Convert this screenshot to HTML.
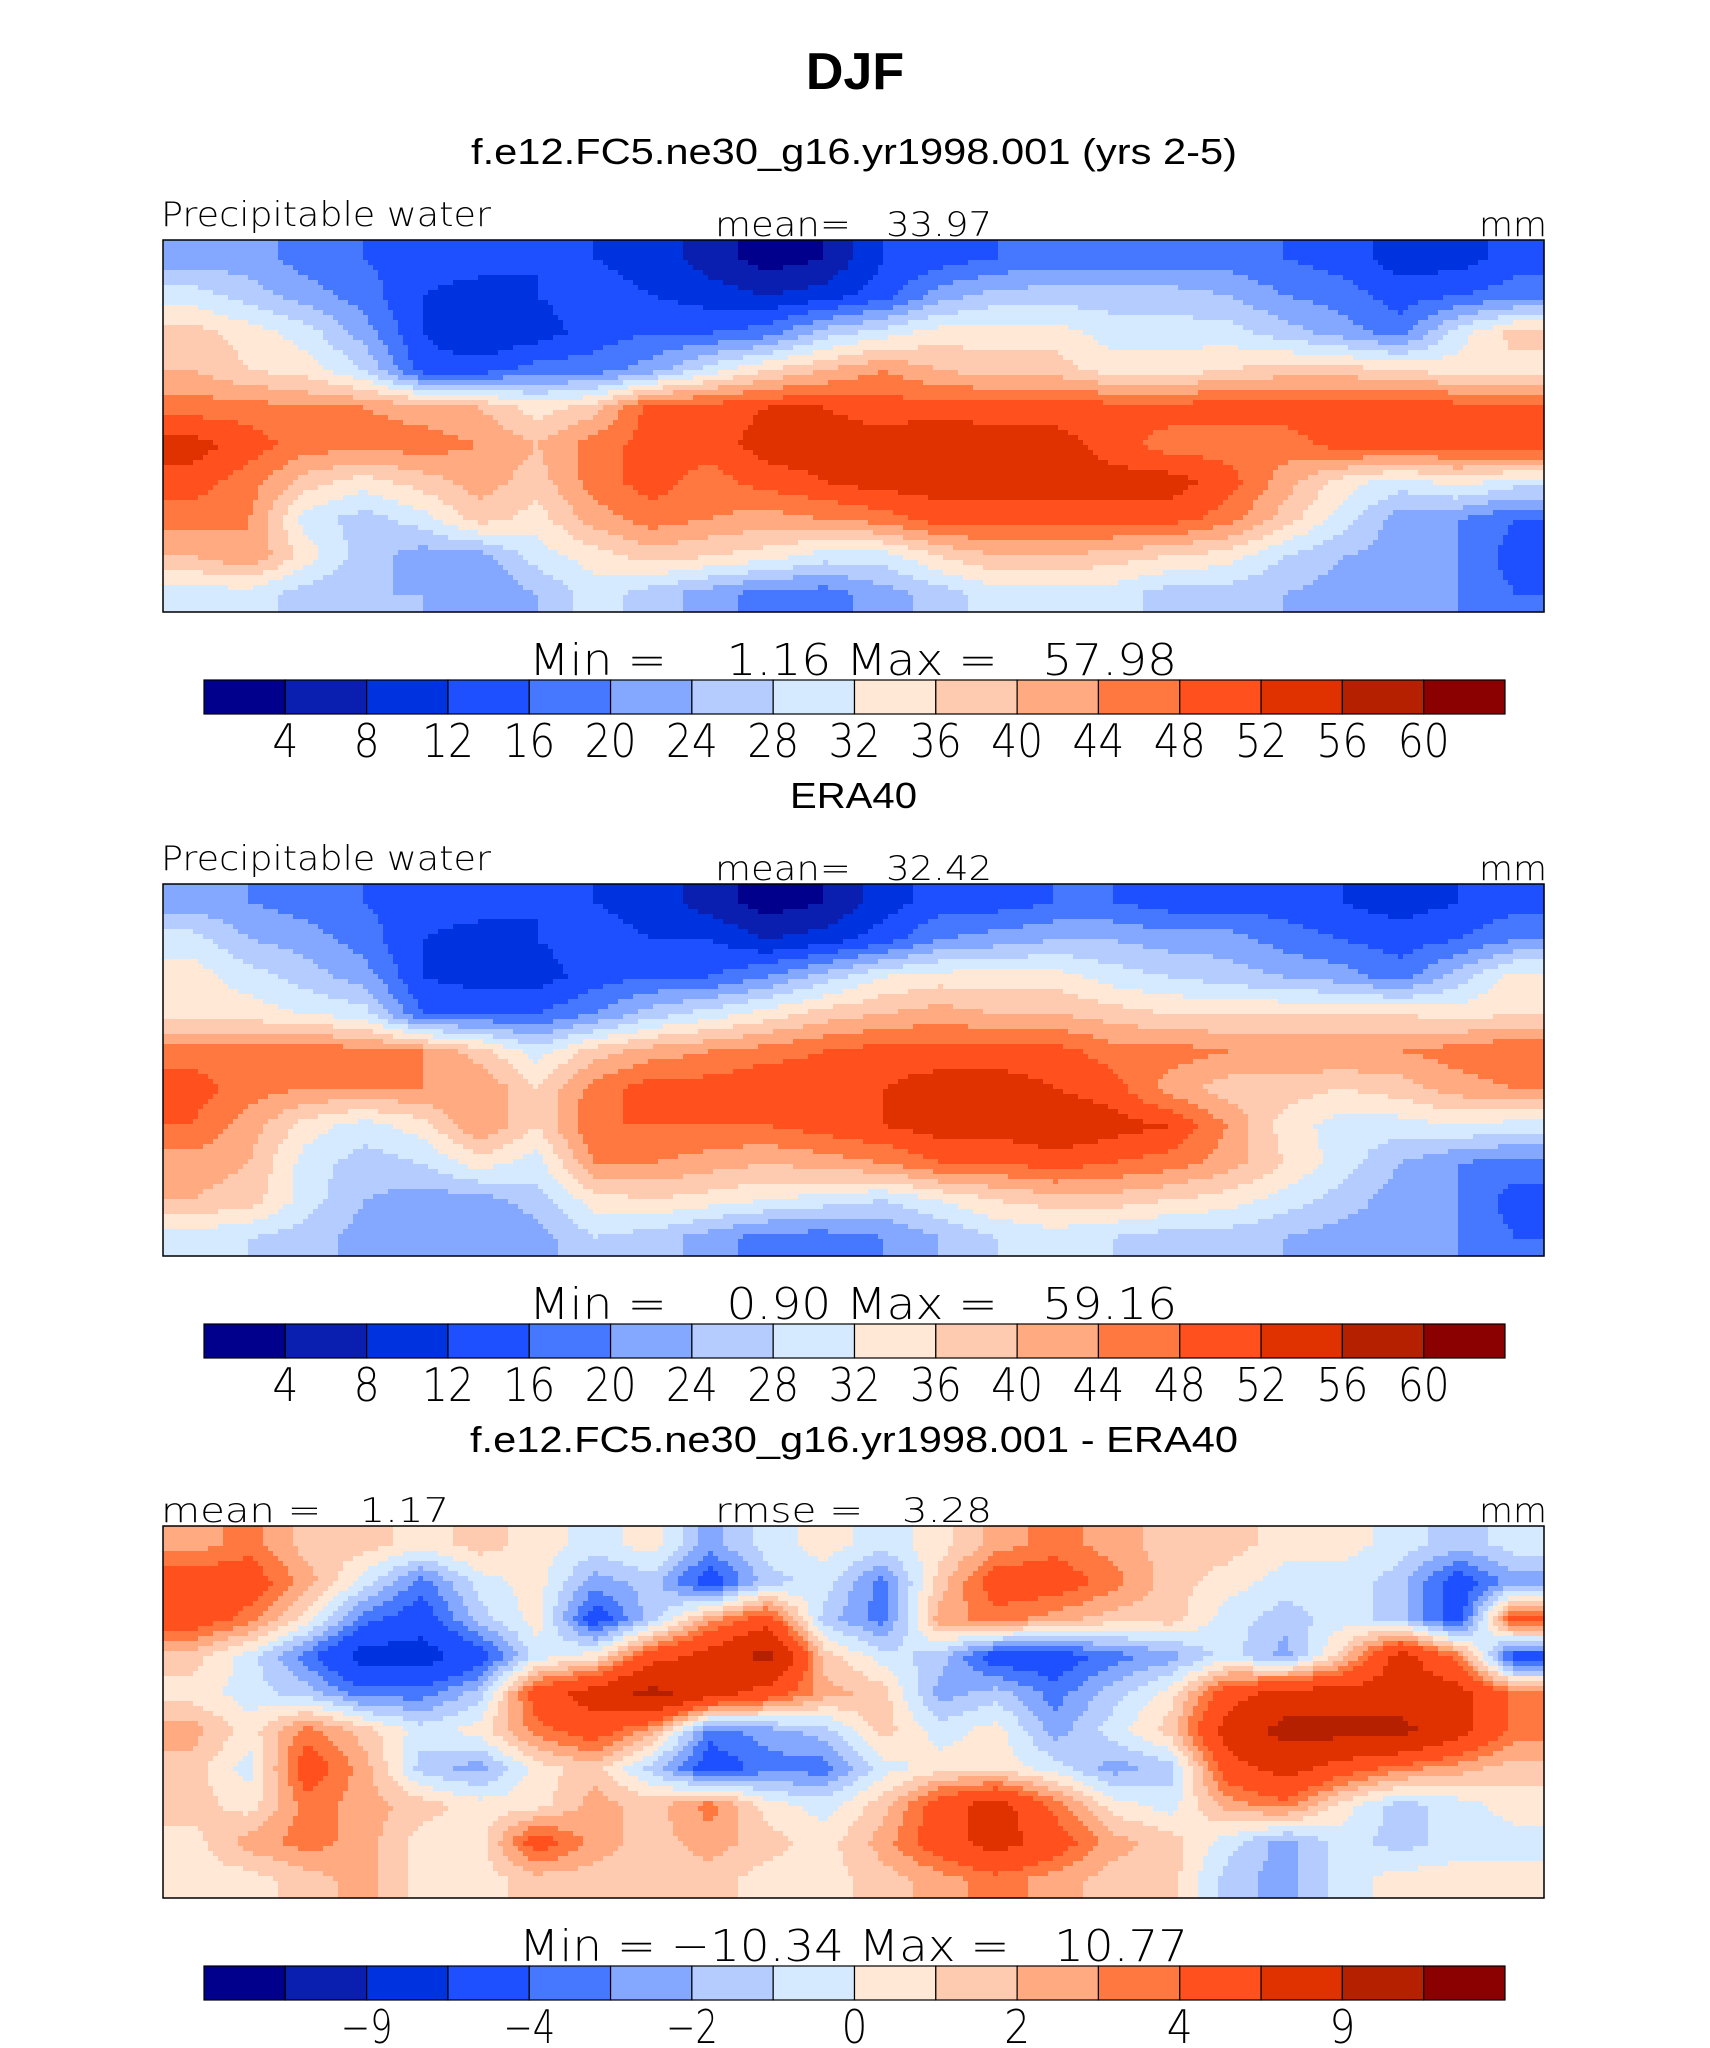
<!DOCTYPE html>
<html><head><meta charset="utf-8"><title>DJF Precipitable water</title>
<style>
html,body{margin:0;padding:0;background:#fff;}
svg{display:block;}
text{white-space:pre;}
.t{font-family:"DejaVu Sans","Liberation Sans",sans-serif;font-weight:200;fill:#000;}
.h{font-family:"Liberation Sans",sans-serif;fill:#000;}
</style></head>
<body>
<svg id="fig" width="1710" height="2048" viewBox="0 0 1710 2048" xmlns="http://www.w3.org/2000/svg">
<text class="h" x="855" y="89" font-size="52" font-weight="bold" text-anchor="middle">DJF</text>
</svg>
<script>
// ---- data ----
const palette = ["#00008c","#0a1fb0","#0033e0","#1e50ff","#4678ff","#84a8ff","#b4ccff","#d6eaff","#ffe8d6","#ffcbb0","#ffaa80","#ff7840","#ff501e","#e03200","#b42000","#8b0000"];
const pwLevels = [4,8,12,16,20,24,28,32,36,40,44,48,52,56,60];
const pwTickLabels = ["4","8","12","16","20","24","28","32","36","40","44","48","52","56","60"];
const diffLevels = [-12,-9,-6,-4,-3,-2,-1,0,1,2,3,4,6,9,12];
const diffTickLabels = ["","\u22129","","\u22124","","\u22122","","0","","2","","4","","9",""];

const modelPW = [
[22,22,18,16,14,14,12,12,10,6,2,4,12,14,16,18,18,18,18,16,14,10,10,14],
[30,26,22,18,12,10,12,14,12,10,8,10,14,22,26,26,26,26,24,20,18,14,16,18],
[38,34,30,22,12,8,10,14,16,16,18,26,30,34,34,34,30,30,30,26,22,18,30,38],
[40,36,34,28,14,14,18,18,22,30,36,40,44,40,38,38,34,34,36,38,38,36,34,34],
[46,46,44,44,42,40,34,38,50,50,52,52,50,50,50,50,50,50,50,50,50,52,50,50],
[54,50,46,46,46,44,40,46,50,50,54,54,54,56,54,54,50,46,46,46,50,50,50,52],
[50,46,38,34,38,42,38,46,50,46,50,52,54,54,54,54,54,54,50,42,34,30,34,30],
[46,44,30,26,30,38,34,42,46,44,42,44,46,50,50,50,50,50,46,38,30,22,20,16],
[40,44,34,26,22,22,30,34,38,36,34,30,30,36,40,40,38,36,34,28,24,22,20,14],
[30,30,26,24,24,20,24,30,26,22,18,18,22,26,30,30,30,26,26,24,22,22,20,16]];

const eraPW = [
[22,20,18,16,14,14,12,12,10,6,2,4,10,14,14,16,16,14,14,14,12,10,12,14],
[30,24,22,18,12,10,12,14,12,12,8,10,14,20,22,24,24,22,22,18,16,14,16,20],
[34,30,26,22,12,10,10,14,16,16,20,26,32,34,34,34,30,28,26,24,22,18,26,34],
[34,34,32,30,16,16,16,20,26,30,34,38,40,42,40,40,38,36,36,36,36,36,34,36],
[46,46,46,46,44,38,30,38,42,44,46,48,50,50,50,50,46,46,44,44,44,44,46,48],
[50,46,44,44,44,44,36,46,50,50,52,52,52,54,54,52,50,42,38,38,36,38,42,44],
[48,42,34,30,34,44,36,48,48,48,48,50,52,54,54,56,54,52,44,34,30,30,32,30],
[42,40,30,26,28,34,30,44,44,42,40,42,44,48,48,50,48,46,42,36,30,24,20,18],
[40,38,30,24,22,22,26,34,36,34,32,30,28,32,36,38,38,36,34,30,26,22,20,14],
[30,28,26,22,22,20,22,28,26,22,18,18,20,24,28,30,28,26,26,24,22,22,20,16]];

const diffPW = [
[2.5,3.5,1.5,1.5,0.5,1.5,0.5,-0.5,0.5,-2.5,-0.5,0.5,-0.5,0.5,2.5,3.5,2.5,1.5,1.5,0.5,0.5,-0.5,-1.5,-0.5],
[5,5,2.5,-0.5,-3.5,-0.5,0.5,-2.5,-1.5,-5,-1.5,-0.5,-3.5,1.5,5,5,3.5,1.5,0.5,-0.5,-0.5,-1.5,-5,-2.5],
[5,3.5,0.5,-3.5,-5,-1.5,0.5,-5,-1.5,2.5,5,-1.5,-3.5,2.5,3.5,2.5,1.5,1.5,-0.5,-1.5,-0.5,-1.5,-5,5],
[1.5,-0.5,-3.5,-7,-7,-5,-0.5,0.5,5,7,10,1.5,-0.5,-1.5,-5,-5,-3.5,-2.5,-0.5,-2.5,1.5,7,3.5,-5],
[0.5,-0.5,-1.5,-3.5,-3.5,-1.5,5,7,10,7,5,2.5,1.5,-2.5,-1.5,-3.5,-1.5,0.5,5,7,7,7,7,3.5],
[2.5,0.5,3.5,1.5,-0.5,0.5,3.5,5,2.5,-3.5,-2.5,-1.5,1.5,-0.5,0.5,-2.5,-0.5,1.5,7,10,10,10,7,3.5],
[1.5,-0.5,5,2.5,-1.5,-2.5,0.5,1.5,-1.5,-5,-3.5,-3.5,-0.5,0.5,0.5,-0.5,-2.5,-1.5,5,7,5,3.5,2.5,1.5],
[1.5,0.5,3.5,2.5,1.5,0.5,0.5,2.5,1.5,3.5,0.5,-0.5,1.5,5,7,3.5,0.5,-0.5,2.5,3.5,0.5,-1.5,-0.5,0.5],
[0.5,2.5,3.5,2.5,0.5,0.5,5,2.5,1.5,2.5,1.5,0.5,2.5,5,7,5,2.5,1.5,-0.5,-2.5,-0.5,-1.5,-0.5,-0.5],
[0.5,0.5,1.5,2.5,0.5,0.5,1.5,1.5,1.5,1.5,0.5,0.5,1.5,2.5,3.5,2.5,1.5,1.5,-1.5,-2.5,-0.5,0.5,0.5,0.5]];

// ---- drawing ----
const NS = "http://www.w3.org/2000/svg";
const svg = document.getElementById("fig");
function mk(tag, attrs, parent){const e=document.createElementNS(NS,tag);for(const k in attrs)e.setAttribute(k,attrs[k]);(parent||svg).appendChild(e);return e;}
function txt(s, attrs, name){const e=mk("text",attrs);e.textContent=s;


return e;}
function levelIndex(v, levels){let i=0;while(i<levels.length && v>=levels[i])i++;return i;}
function sample(grid, fx, fy){
  const R=grid.length, C=grid[0].length;
  let gx=fx*C-0.5, gy=fy*R-0.5;
  gx=Math.max(0,Math.min(C-1,gx)); gy=Math.max(0,Math.min(R-1,gy));
  const x0=Math.floor(gx), y0=Math.floor(gy), x1=Math.min(C-1,x0+1), y1=Math.min(R-1,y0+1);
  const tx=gx-x0, ty=gy-y0;
  const a=grid[y0][x0]*(1-tx)+grid[y0][x1]*tx, b=grid[y1][x0]*(1-tx)+grid[y1][x1]*tx;
  return a*(1-ty)+b*ty;
}
const MX=163, MW=1381, MH=372;
function drawMap(grid, levels, y0, name){
  const g=mk("g",{});
  
  
  const cs=5;
  const nx=Math.ceil(MW/cs);
  for(let y=0;y<MH;y+=cs){
    const h=Math.min(cs,MH-y);
    let runStart=0, runColor=null;
    for(let i=0;i<=nx;i++){
      const x=Math.min(i*cs,MW);
      let col=null;
      if(i<nx){const v=sample(grid,(x+cs/2)/MW,(y+cs/2)/MH);col=palette[levelIndex(v,levels)];}
      if(col!==runColor){
        if(runColor!==null){
          const r=mk("rect",{x:MX+runStart,y:y0+y,width:x-runStart+0.6,height:h+0.6,fill:runColor},g);
          
          
        }
        runStart=x; runColor=col;
      }
    }
  }
  const b=mk("rect",{x:MX,y:y0,width:MW,height:MH,fill:"none",stroke:"#000","stroke-width":1.5});
  
  
}
const CBX=204, CBW=1301, CBH=34;
function drawColorbar(y0, labels, name){
  const g=mk("g",{});
  
  
  const bw=CBW/palette.length;
  palette.forEach((c,i)=>{
    const r=mk("rect",{x:CBX+i*bw,y:y0,width:bw,height:CBH,fill:c,stroke:"#000","stroke-width":1.2},g);
    
    
  });
  labels.forEach((s,i)=>{
    if(!s)return;
    const n=s.length;
    txt(s,{class:"t",x:CBX+(i+1)*bw,y:y0+77,"font-size":46,"text-anchor":"middle",textLength:26*n,lengthAdjust:"spacingAndGlyphs"},'colorbar-tick-label');
  });
}
function stretched(s,x,y,len,size,name,anchor){
  return txt(s,{class:"t",x:x,y:y,"font-size":size,textLength:len,lengthAdjust:"spacingAndGlyphs","text-anchor":anchor||"start"},name);
}
// panel 1
txt("f.e12.FC5.ne30_g16.yr1998.001 (yrs 2-5)",{class:"h",x:471,y:164,"font-size":36,textLength:766,lengthAdjust:"spacingAndGlyphs"},'panel1-title');
stretched("Precipitable water",161,226,330,34,'panel1-variable-label');
stretched("mean=   33.97",715,236,277,34,'panel1-mean-label');
stretched("mm",1479,236,68,34,'panel1-units-label');
drawMap(modelPW,pwLevels,240,'panel1-map');
stretched("Min =    1.16 Max =   57.98",529,675,648,44,'panel1-minmax-label');
drawColorbar(680,pwTickLabels,'panel1-colorbar');
// panel 2
txt("ERA40",{class:"h",x:790,y:808,"font-size":36,textLength:127,lengthAdjust:"spacingAndGlyphs"},'panel2-title');
stretched("Precipitable water",161,870,330,34,'panel2-variable-label');
stretched("mean=   32.42",715,880,277,34,'panel2-mean-label');
stretched("mm",1479,880,68,34,'panel2-units-label');
drawMap(eraPW,pwLevels,884,'panel2-map');
stretched("Min =    0.90 Max =   59.16",529,1319,648,44,'panel2-minmax-label');
drawColorbar(1324,pwTickLabels,'panel2-colorbar');
// panel 3
txt("f.e12.FC5.ne30_g16.yr1998.001 - ERA40",{class:"h",x:470,y:1452,"font-size":36,textLength:768,lengthAdjust:"spacingAndGlyphs"},'panel3-title');
stretched("mean =   1.17",161,1522,288,34,'panel3-mean-label');
stretched("rmse =   3.28",715,1522,277,34,'panel3-rmse-label');
stretched("mm",1479,1522,68,34,'panel3-units-label');
drawMap(diffPW,diffLevels,1526,'panel3-map');
stretched("Min = \u221210.34 Max =   10.77",519,1961,669,44,'panel3-minmax-label');
drawColorbar(1966,diffTickLabels,'panel3-colorbar');
</script>
</body></html>
